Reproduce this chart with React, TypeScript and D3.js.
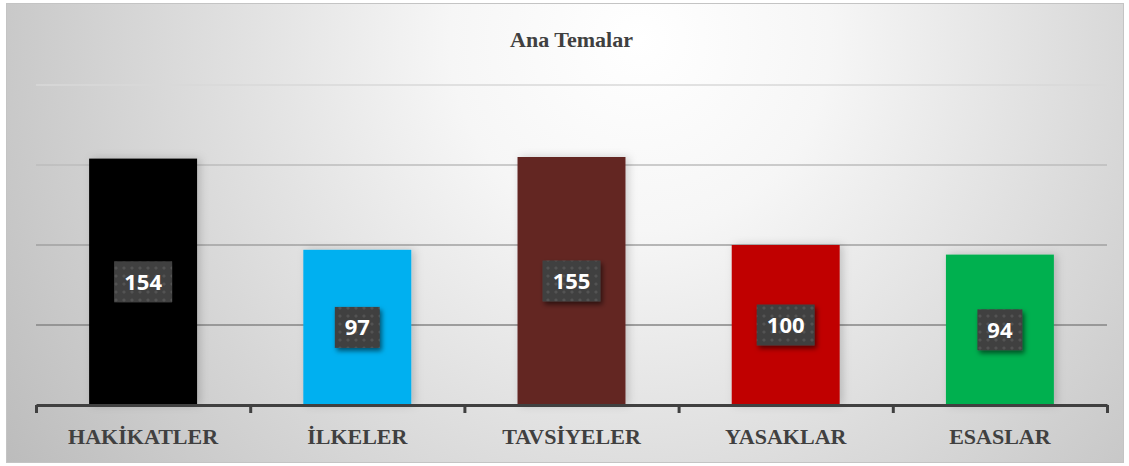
import * as React from "react";
import * as d3 from "d3";

// data
const categories = ["HAKİKATLER", "İLKELER", "TAVSİYELER", "YASAKLAR", "ESASLAR"];
const values = [154, 97, 155, 100, 94];
const barColors = ["#000000", "#00B0F0", "#632523", "#C00000", "#00B050"];
const gridTicks = [50, 100, 150, 200];
const title = "Ana Temalar";

const W = 1129;
const H = 466;

function App() {
    const left = 36, right = 1107, bottom = 405, top = 85;

    const xScale = d3.scaleBand<string>()
        .domain(categories)
        .range([left, right])
        .paddingInner(0.496)
        .paddingOuter(0.248);

    const yScale = d3.scaleLinear().domain([0, 200]).range([bottom, top]);

    // grid lines get lighter toward the top
    const gridColor = d3.scaleLinear<string>()
        .domain([50, 200])
        .range(["#858585", "#d8d8d8"]);

    const edgeScale = d3.scaleLinear().domain([0, categories.length]).range([left, right]);
    const axisRef = React.useRef<SVGGElement>(null);

    React.useEffect(() => {
        const g = d3.select(axisRef.current);
        const axis = d3.axisBottom(edgeScale)
            .tickValues(d3.range(categories.length + 1))
            .tickFormat(() => "")
            .tickSizeOuter(0)
            .tickSizeInner(8);
        g.attr("transform", `translate(0, ${bottom})`).call(axis);
        g.select(".domain").attr("stroke", "#404040").attr("stroke-width", 3);
        g.selectAll(".tick line").attr("stroke", "#404040").attr("stroke-width", 3);
    }, []);

    return (
        <svg width={W} height={H} style={{ position: "absolute", left: 0, top: 0, background: "#fff" }}>
            <defs>
                <radialGradient id="bg" cx="640" cy="40" r="760" gradientUnits="userSpaceOnUse">
                    <stop offset="0" stopColor="#ffffff" />
                    <stop offset="0.25" stopColor="#f6f6f6" />
                    <stop offset="1" stopColor="#bcbcbc" />
                </radialGradient>
                <pattern id="dots" width="8" height="8" patternUnits="userSpaceOnUse">
                    <rect width="8" height="8" fill="#404040" />
                    <circle cx="4" cy="4" r="1.6" fill="#535353" />
                </pattern>
                <filter id="barShadow" x="-20%" y="-10%" width="140%" height="120%">
                    <feDropShadow dx="3" dy="0" stdDeviation="4" floodColor="#000" floodOpacity="0.18" />
                </filter>
                <filter id="boxShadow" x="-30%" y="-30%" width="160%" height="160%">
                    <feDropShadow dx="2" dy="3" stdDeviation="2.5" floodColor="#000" floodOpacity="0.55" />
                </filter>
            </defs>
            <rect x={6.5} y={3.5} width={1117} height={459} fill="url(#bg)" stroke="#c4c4c4" />

            <text x={(left + right) / 2} y={47} textAnchor="middle"
                fontFamily="'Liberation Serif', serif" fontWeight="bold" fontSize={22} fill="#404040">
                {title}
            </text>

            {gridTicks.map(t => (
                <line key={t} x1={left} x2={right} y1={yScale(t)} y2={yScale(t)}
                    stroke={gridColor(t)} strokeWidth={1.5} />
            ))}

            {categories.map((c, i) => (
                <rect key={c} x={xScale(c)} width={xScale.bandwidth()}
                    y={yScale(values[i])} height={yScale(0) - yScale(values[i])}
                    fill={barColors[i]} filter="url(#barShadow)" />
            ))}

            <g ref={axisRef} />

            {categories.map((c, i) => {
                const cx = (xScale(c) as number) + xScale.bandwidth() / 2;
                const cy = (yScale(values[i]) + yScale(0)) / 2;
                const label = String(values[i]);
                const bw = label.length * 13 + 19;
                return (
                    <g key={c + "-lbl"}>
                        <rect x={cx - bw / 2} y={cy - 20.5} width={bw} height={41}
                            fill="url(#dots)" filter="url(#boxShadow)" />
                        <text x={cx} y={cy + 8} textAnchor="middle"
                            fontFamily="'Open Sans', sans-serif" fontWeight="bold" fontSize={22} fill="#fff">
                            {label}
                        </text>
                    </g>
                );
            })}

            {categories.map(c => (
                <text key={c + "-x"} x={(xScale(c) as number) + xScale.bandwidth() / 2} y={444}
                    textAnchor="middle" fontFamily="'Liberation Serif', serif" fontWeight="bold"
                    fontSize={22} fill="#404040">
                    {c}
                </text>
            ))}
        </svg>
    );
}

export default App;
